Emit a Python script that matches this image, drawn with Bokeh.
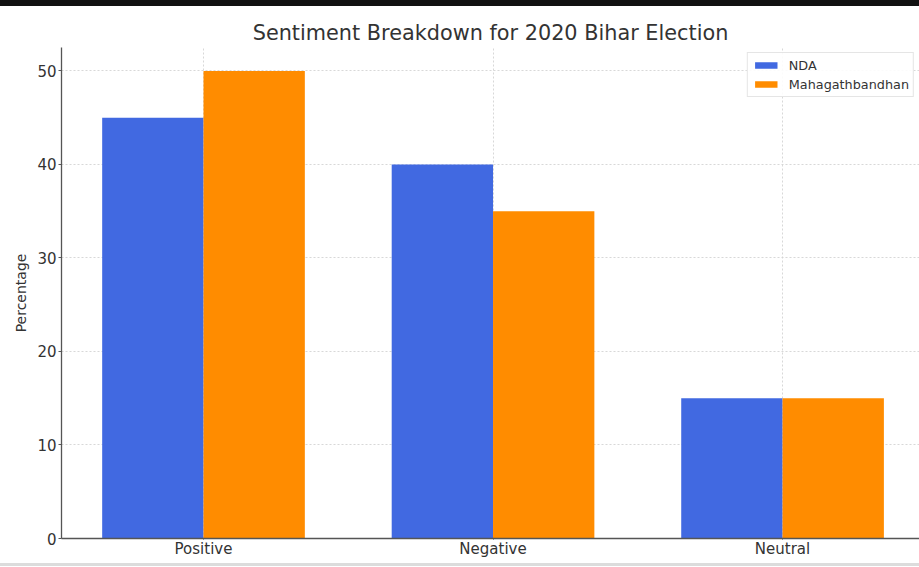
from bokeh.plotting import figure
from bokeh.models import ColumnDataSource, Range1d, FixedTicker, Legend, LegendItem, Div
from bokeh.layouts import column
from bokeh.transform import dodge
from bokeh.embed import file_html
from bokeh.resources import INLINE

# Sentiment shares (%) per camp
categories = ["Positive", "Negative", "Neutral"]
nda = [45, 40, 15]
mahagathbandhan = [50, 35, 15]
y_ticks = [0, 10, 20, 30, 40, 50]

FONT = "DejaVu Sans"
TEXT = "#333333"
BAR_W = 0.35

source = ColumnDataSource(dict(
    pos=list(range(len(categories))),
    cat=categories,
    nda=nda,
    mgb=mahagathbandhan,
))

p = figure(
    output_backend="svg", toolbar_location=None,
    frame_width=858, frame_height=491,
    min_border_left=61, min_border_right=0, min_border_top=41, min_border_bottom=25,
    x_range=Range1d(-0.4905, 2.473), y_range=Range1d(0, 52.5),
    title="Sentiment Breakdown for 2020 Bihar Election",
)
p.outline_line_color = None
p.background_fill_color = "white"
p.border_fill_color = "white"

r_nda = p.vbar(x=dodge("pos", -BAR_W / 2, range=p.x_range), top="nda", width=BAR_W,
               source=source, fill_color="#4169E1", line_color=None)
r_mgb = p.vbar(x=dodge("pos", BAR_W / 2, range=p.x_range), top="mgb", width=BAR_W,
               source=source, fill_color="#FF8C00", line_color=None)

# title
p.title.text_font = FONT
p.title.text_font_size = "20.8px"
p.title.text_font_style = "normal"
p.title.text_color = TEXT
p.title.align = "center"
p.title.standoff = 5

# x axis: category names at bar-pair centres
xa = p.xaxis[0]
xa.ticker = FixedTicker(ticks=list(range(len(categories))))
xa.major_label_overrides = {i: c for i, c in enumerate(categories)}
xa.minor_tick_line_color = None
xa.major_tick_in = 0
xa.major_tick_out = 1
xa.major_label_standoff = 0
xa.major_label_text_font = FONT
xa.major_label_text_font_size = "15px"
xa.major_label_text_color = TEXT
xa.axis_line_color = "#555555"
xa.axis_line_width = 1.3
xa.major_tick_line_color = "#555555"

# y axis
ya = p.yaxis[0]
ya.ticker = FixedTicker(ticks=y_ticks)
ya.minor_tick_line_color = None
ya.major_tick_in = 0
ya.major_tick_out = 3
ya.major_label_standoff = 2
ya.major_label_text_font = FONT
ya.major_label_text_font_size = "15px"
ya.major_label_text_color = TEXT
ya.axis_label = "Percentage"
ya.axis_label_text_font = FONT
ya.axis_label_text_font_size = "14px"
ya.axis_label_text_font_style = "normal"
ya.axis_label_text_color = TEXT
ya.axis_label_standoff = 5
ya.axis_line_color = "#555555"
ya.axis_line_width = 1.3
ya.major_tick_line_color = "#555555"

# dashed grid
for g in (p.xgrid[0], p.ygrid[0]):
    g.grid_line_color = "#d4d4d4"
    g.grid_line_dash = "2 2"
    g.grid_line_width = 1
    g.grid_line_alpha = 0.9

legend = Legend(items=[
    LegendItem(label="NDA", renderers=[r_nda]),
    LegendItem(label="Mahagathbandhan", renderers=[r_mgb]),
])
legend.location = "top_right"
legend.margin = 5
legend.padding = 4
legend.spacing = 3
legend.glyph_width = 28
legend.glyph_height = 8
legend.label_height = 16
legend.label_standoff = 9
legend.label_text_font = FONT
legend.label_text_font_size = "12.8px"
legend.label_text_color = TEXT
legend.border_line_color = "#cccccc"
legend.border_line_width = 1
legend.background_fill_color = "white"
legend.background_fill_alpha = 0.9
p.add_layout(legend)

top_bar = Div(text="", width=919, height=6, margin=0,
              styles={"background-color": "#111111"})
bottom_bar = Div(text="", width=919, height=3, margin=0,
                 styles={"background-color": "#dcdcdc"})

page = column(top_bar, p, bottom_bar, spacing=0, margin=0)

with open("out.html", "w") as f:
    f.write(file_html(page, INLINE))
